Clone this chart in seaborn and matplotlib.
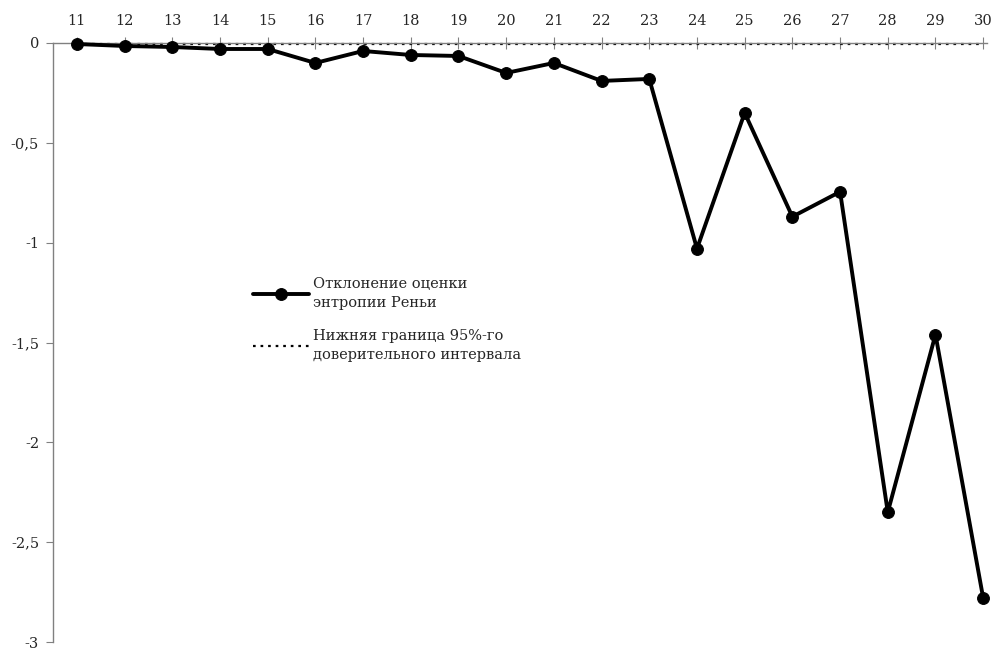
import matplotlib
matplotlib.use("Agg")
import matplotlib.pyplot as plt
import seaborn as sns
import pandas as pd

categories = list(range(11, 31))
deviation = [-0.005, -0.015, -0.02, -0.03, -0.03, -0.10, -0.04, -0.06, -0.065, -0.15,
             -0.10, -0.19, -0.18, -1.03, -0.35, -0.87, -0.745, -2.35, -1.46, -2.78]
lower_bound = [-0.005] * 20
y_ticks = [0, -0.5, -1, -1.5, -2, -2.5, -3]
y_tick_labels = ["0", "-0,5", "-1", "-1,5", "-2", "-2,5", "-3"]
series_names = ["Отклонение оценки\nэнтропии Реньи", "Нижняя граница 95%-го\nдоверительного интервала"]

sns.set_style("white")
plt.rcParams['font.family'] = ['DejaVu Serif']

df = pd.DataFrame({"x": categories, "dev": deviation, "low": lower_bound})

fig = plt.figure(figsize=(9.96, 6.5), dpi=100)
ax = fig.add_axes([53/996, 1 - 642/650, (987-53)/996, (642-43)/650])

sns.lineplot(data=df, x="x", y="low", ax=ax, color="black", linestyle=(0, (1.2, 2.2)),
             linewidth=1.6, label=series_names[1], clip_on=False)
sns.lineplot(data=df, x="x", y="dev", ax=ax, color="black", linewidth=2.8, marker="o",
             markersize=8.5, markeredgecolor="black", markerfacecolor="black",
             label=series_names[0], clip_on=False, zorder=5)

ax.set_xlim(10.5, 30.08)
ax.set_ylim(-3, 0)
ax.set_xticks(categories)
ax.set_xticklabels([str(c) for c in categories], fontsize=10.5)
ax.set_yticks(y_ticks)
ax.set_yticklabels(y_tick_labels, fontsize=10.5)
ax.xaxis.tick_top()
ax.set_xlabel("")
ax.set_ylabel("")
for s in ["bottom", "right"]:
    ax.spines[s].set_visible(False)
for s in ["top", "left"]:
    ax.spines[s].set_color("#808080")
    ax.spines[s].set_linewidth(1.0)
ax.tick_params(axis="x", direction="inout", length=8, color="#808080", pad=7, top=True, bottom=False)
ax.tick_params(axis="y", direction="out", length=5, color="#808080", pad=5, left=True)
ax.grid(False)

handles, labels = ax.get_legend_handles_labels()
order = [1, 0]
leg = ax.legend([handles[i] for i in order], [labels[i] for i in order],
                loc="upper left", bbox_to_anchor=(240/996, 1 - 264/650),
                bbox_transform=fig.transFigure, frameon=False, fontsize=10.5,
                handlelength=3.8, handletextpad=0.3, labelspacing=1.3)
for t in leg.get_texts():
    t.set_linespacing(1.45)

fig.savefig("out.png", dpi=100)
